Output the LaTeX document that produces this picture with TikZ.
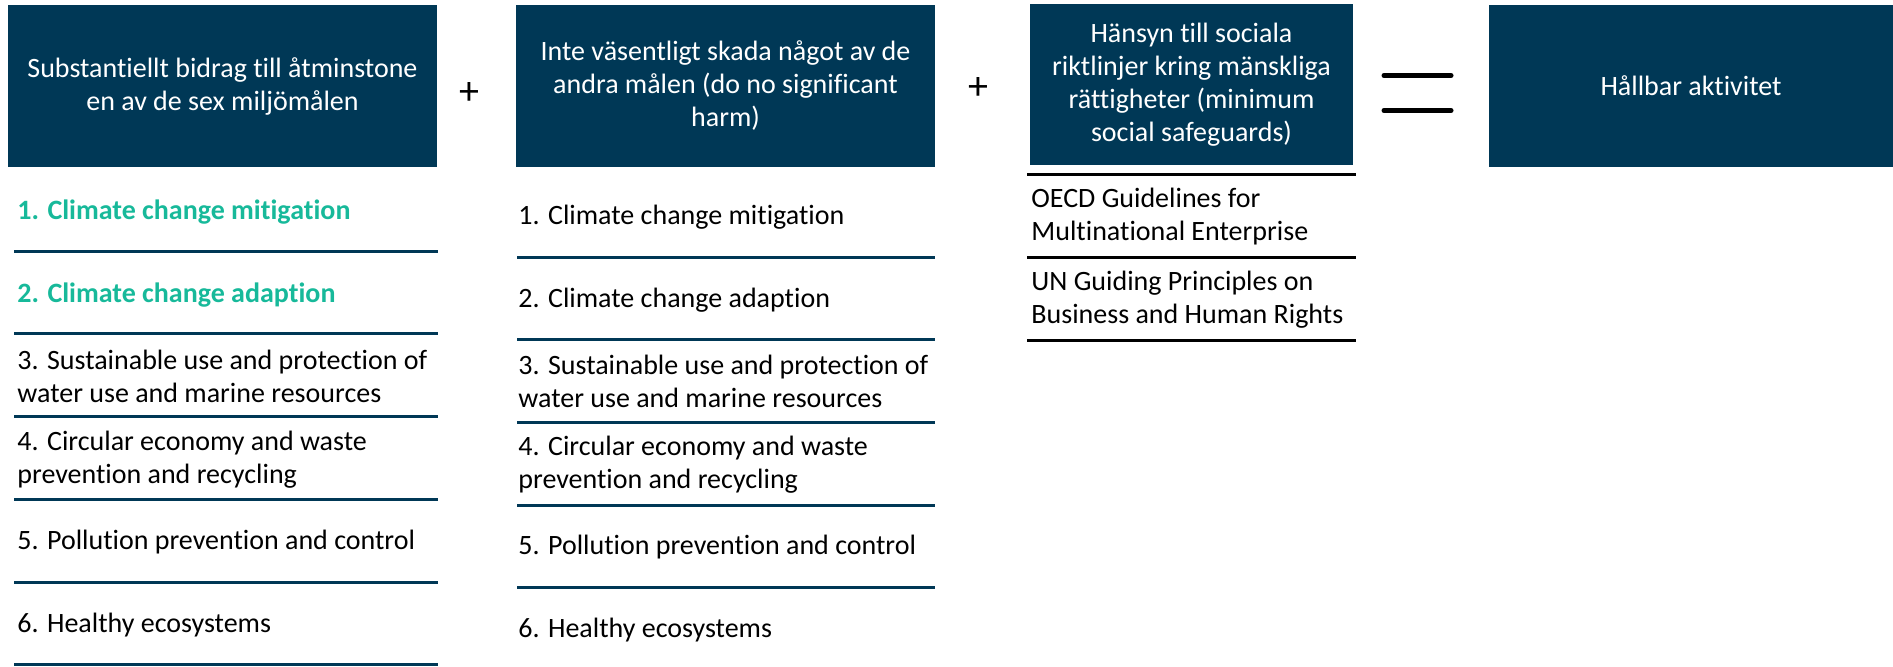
\documentclass[tikz,border=0pt]{standalone}
\usepackage{fontspec}
\setmainfont{Carlito}[Ligatures={NoCommon}]
\definecolor{navy}{HTML}{003856}
\definecolor{teal2}{HTML}{17B99A}
\begin{document}
\begin{tikzpicture}[x=0.5pt,y=-0.5pt,
    font=\fontsize{14}{16.5}\selectfont,
    header/.style={fill=navy,text=white,align=center,inner sep=0pt,minimum height=81pt},
    item/.style={anchor=west,align=left,inner sep=0pt},
    hit/.style={item,text=teal2,font=\fontsize{14}{16.5}\selectfont\bfseries},
    navyrule/.style={navy,line width=1.5pt},
    blackrule/.style={black,line width=1.5pt},
    sign/.style={font=\fontsize{20}{20}\selectfont}]
\useasboundingbox (0,0) rectangle (1893,666);
% top row
\node[header,minimum width=214.5pt] (bidrag) at (222.5,86) {Substantiellt bidrag till åtminstone\\en av de sex miljömålen};
\node[header,minimum width=209.5pt] (skada) at (725.5,86) {Inte väsentligt skada något av de\\andra målen (do no significant\\harm)};
\node[header,minimum width=161.5pt,minimum height=80.5pt] (social) at (1191.5,84.5) {Hänsyn till sociala\\riktlinjer kring mänskliga\\rättigheter (minimum\\social safeguards)};
\node[header,minimum width=202pt] (hallbar) at (1691,86) {Hållbar aktivitet};
\node[sign] (plusa) at (469,93) {+};
\node[sign] (plusb) at (978,88) {+};
\draw[line width=2.5pt,line cap=round] (1384,75.5) -- (1451,75.5) (1384,110.5) -- (1451,110.5);
% left column
\node[hit] (l1) at (17,212) {1. Climate change mitigation};
\node[hit] (l2) at (17,295) {2. Climate change adaption};
\node[item] (l3) at (17,376.5) {3. Sustainable use and protection of\\water use and marine resources};
\node[item] (l4) at (17,460) {4. Circular economy and waste\\prevention and recycling};
\node[item] (l5) at (17,542) {5. Pollution prevention and control};
\node[item] (l6) at (17,625) {6. Healthy ecosystems};
\foreach \y in {251,333,416,499,582,664}
    \draw[navyrule] (14,\y) -- (438,\y);
% middle column
\node[item] (m1) at (518,217) {1. Climate change mitigation};
\node[item] (m2) at (518,300) {2. Climate change adaption};
\node[item] (m3) at (518,381.5) {3. Sustainable use and protection of\\water use and marine resources};
\node[item] (m4) at (518,465) {4. Circular economy and waste\\prevention and recycling};
\node[item] (m5) at (518,547) {5. Pollution prevention and control};
\node[item] (m6) at (518,630) {6. Healthy ecosystems};
\foreach \y in {257,339,422,505,587}
    \draw[navyrule] (517,\y) -- (935,\y);
% right column
\node[item] (r1) at (1031,217) {OECD Guidelines for\\Multinational Enterprise};
\node[item] (r2) at (1031,299.5) {UN Guiding Principles on\\Business and Human Rights};
\foreach \y in {174,257,340}
    \draw[blackrule] (1027,\y) -- (1356,\y);
\end{tikzpicture}
\end{document}
